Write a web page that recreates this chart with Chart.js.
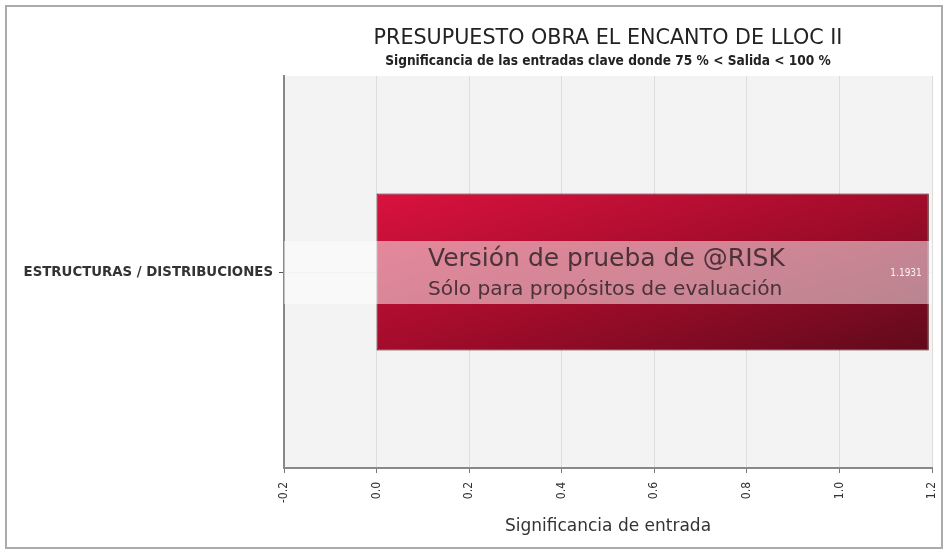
<!DOCTYPE html>
<html>
<head>
<meta charset="utf-8">
<script src="https://cdn.jsdelivr.net/npm/chart.js@4.4.0/dist/chart.umd.min.js"></script>
<style>
  html, body { margin: 0; padding: 0; background: #fff; }
  #wrap { width: 948px; height: 554px; position: relative; }
</style>
</head>
<body>
<div id="wrap"><canvas id="myChart" width="948" height="554"></canvas></div>
<script>
// chart data
const categories = ['ESTRUCTURAS / DISTRIBUCIONES'];
const values = [1.1931];
const tickLabels = ['-0.2', '0.0', '0.2', '0.4', '0.6', '0.8', '1.0', '1.2'];
const titleText = 'PRESUPUESTO OBRA EL ENCANTO DE LLOC II';
const subtitleText = 'Significancia de las entradas clave donde 75 % < Salida < 100 %';
const watermark = ['Versión de prueba de @RISK', 'Sólo para propósitos de evaluación'];

const BAR_PCT = 0.4;

/* frame, plot background, titles */
const decor = {
  id: 'decor',
  beforeDraw(chart) {
    const c = chart.ctx, a = chart.chartArea;
    c.save();
    c.fillStyle = '#fff';
    c.fillRect(0, 0, chart.width, chart.height);
    c.strokeStyle = '#ababab';
    c.lineWidth = 2;
    c.strokeRect(6, 6, chart.width - 12, chart.height - 12);
    c.fillStyle = '#f3f3f3';
    c.fillRect(a.left, a.top, a.right - a.left, a.bottom - a.top);
    const cx = (a.left + a.right) / 2;
    c.fillStyle = '#222';
    c.textAlign = 'center';
    c.textBaseline = 'alphabetic';
    c.font = '20.7px "DejaVu Sans"';
    c.fillText(titleText, cx, 44);
    c.font = 'bold 13.6px "DejaVu Sans Condensed", "DejaVu Sans"';
    c.fillText(subtitleText, cx, 65);
    c.restore();
  },
  afterDatasetsDraw(chart) {
    const c = chart.ctx, a = chart.chartArea;
    const ys = chart.scales.y, xs = chart.scales.x;
    const yc = ys.getPixelForValue(0);
    c.save();
    // evaluation band
    c.fillStyle = 'rgba(255,255,255,0.5)';
    c.fillRect(a.left, yc - 31, a.right - a.left, 63);
    c.fillStyle = 'rgba(50,35,40,0.85)';
    c.textAlign = 'left';
    c.textBaseline = 'alphabetic';
    c.font = '25px "DejaVu Sans"';
    c.fillText(watermark[0], a.left + 144, yc - 6);
    c.font = '20.2px "DejaVu Sans"';
    c.fillText(watermark[1], a.left + 144, yc + 23);
    // value label
    c.fillStyle = 'rgba(255,255,255,0.9)';
    c.textAlign = 'right';
    c.textBaseline = 'middle';
    c.font = '10px "DejaVu Sans Condensed", "DejaVu Sans"';
    c.fillText(values[0].toFixed(4), xs.getPixelForValue(values[0]) - 7, yc + 1);
    c.restore();
  }
};

// gradient: top-left bright, bottom-right dark, other corners halfway
function barGradient(context) {
  const chart = context.chart;
  const a = chart.chartArea;
  if (!a) return '#b0102e';
  const xs = chart.scales.x, ys = chart.scales.y;
  const yc = ys.getPixelForValue(0);
  const H = (a.bottom - a.top) * BAR_PCT;
  const x0 = xs.getPixelForValue(0), x1 = xs.getPixelForValue(values[0]);
  const W = x1 - x0;
  const s = 2 / (1 / (W * W) + 1 / (H * H));
  const top = yc - H / 2;
  const g = chart.ctx.createLinearGradient(x0, top, x0 + s / W, top + s / H);
  g.addColorStop(0, '#da123e');
  g.addColorStop(0.5, '#a30c2b');
  g.addColorStop(1, '#600a1b');
  return g;
}

const ctx = document.getElementById('myChart').getContext('2d');
const chart = new Chart(ctx, {
  type: 'bar',
  data: {
    labels: categories,
    datasets: [{
      label: 'Significancia',
      data: values,
      backgroundColor: barGradient,
      borderColor: '#4a0813',
      borderWidth: 1,
      borderSkipped: false,
      barPercentage: BAR_PCT,
      categoryPercentage: 1
    }]
  },
  options: {
    indexAxis: 'y',
    responsive: false,
    animation: false,
    layout: { padding: { top: 76, right: 16, bottom: 14, left: 0 } },
    plugins: {
      legend: { display: false },
      tooltip: { enabled: false }
    },
    scales: {
      x: {
        min: -0.2,
        max: 1.2,
        afterFit(scale) {
          scale.height = 72;
          scale.paddingRight = 0;
        },
        ticks: {
          stepSize: 0.2,
          minRotation: 90,
          maxRotation: 90,
          padding: 9,
          color: '#333',
          font: { family: '"DejaVu Sans Condensed", "DejaVu Sans"', size: 12 },
          callback: function(value, index) { return tickLabels[index]; }
        },
        grid: { color: '#dddddd', tickLength: 5, tickColor: '#777' },
        border: { color: '#888', width: 2 },
        title: {
          display: true,
          text: 'Significancia de entrada',
          color: '#333',
          font: { family: '"DejaVu Sans"', size: 17 },
          padding: { top: 2, bottom: 3 }
        }
      },
      y: {
        afterFit(scale) { scale.width = 284; },
        ticks: {
          padding: 6,
          color: '#333',
          font: { family: '"DejaVu Sans Condensed", "DejaVu Sans"', size: 14.8, weight: 'bold' }
        },
        grid: { offset: false, color: '#e6e6e6', tickLength: 5, tickColor: '#555' },
        border: { color: '#888', width: 2 }
      }
    }
  },
  plugins: [decor]
});
</script>
</body>
</html>
